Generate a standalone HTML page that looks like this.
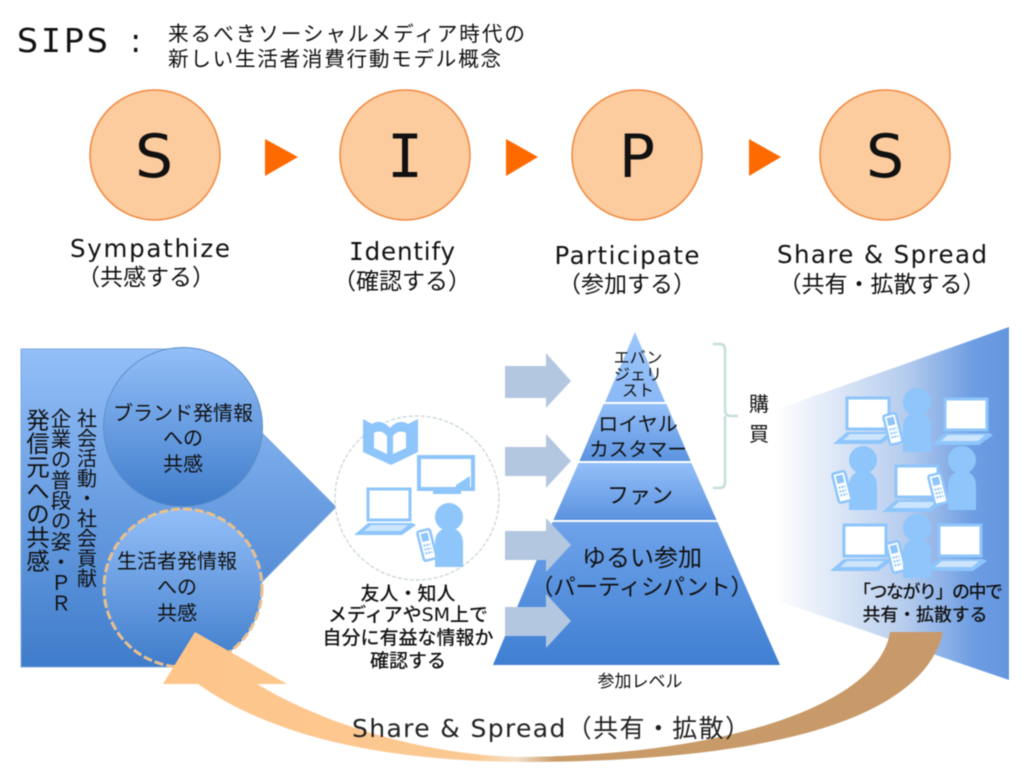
<!DOCTYPE html>
<html lang="ja"><head><meta charset="utf-8"><title>SIPS</title>
<style>
html,body{margin:0;padding:0;background:#fff;width:1028px;height:780px;overflow:hidden}
svg{display:block;filter:blur(.5px)}
text{font-family:"DejaVu Sans","Noto Sans CJK JP",sans-serif;fill:#111;text-anchor:middle}
.m{font-family:"DejaVu Sans Mono","Noto Sans CJK JP",monospace}
.v{writing-mode:vertical-rl;text-anchor:start;font-family:"Noto Sans CJK JP",sans-serif}
</style></head><body>
<svg width="1028" height="780" viewBox="0 0 1028 780" xmlns="http://www.w3.org/2000/svg">
<defs>
<linearGradient id="b" x1="0" y1="0" x2="0" y2="1"><stop offset="0" stop-color="#93bff8"/><stop offset="1" stop-color="#3f7ccb"/></linearGradient>
<linearGradient id="p1" gradientUnits="userSpaceOnUse" x1="0" y1="332" x2="0" y2="665"><stop offset="0" stop-color="#9cc6fb"/><stop offset=".6" stop-color="#6aa0ea"/><stop offset="1" stop-color="#3c7ccb"/></linearGradient>
<linearGradient id="p2" x1="0" y1="0" x2="0" y2="1"><stop offset="0" stop-color="#94c0f9"/><stop offset="1" stop-color="#5b92df"/></linearGradient>
<linearGradient id="p4" x1="0" y1="0" x2="0" y2="1"><stop offset="0" stop-color="#6fa3ea"/><stop offset="1" stop-color="#3f7fd2"/></linearGradient>
<linearGradient id="f" gradientUnits="userSpaceOnUse" x1="775" y1="0" x2="1009" y2="0"><stop offset="0" stop-color="#fff"/><stop offset=".55" stop-color="#b7cdee"/><stop offset=".85" stop-color="#6d9de2"/><stop offset="1" stop-color="#6496e0"/></linearGradient>
<linearGradient id="c" gradientUnits="userSpaceOnUse" x1="163" y1="0" x2="948" y2="0"><stop offset="0" stop-color="#fec58a"/><stop offset=".4" stop-color="#fcc993"/><stop offset=".45" stop-color="#f5dfc8"/><stop offset=".5" stop-color="#c99c68"/><stop offset="1" stop-color="#c8996a"/></linearGradient>
<g id="laptop"><rect x="2" y="2" width="42" height="31" fill="#fff" stroke="#8ec5fb" stroke-width="3"/><path d="M-12 48L2 36H46L50 38L36 48Z" fill="#8ec5fb"/><path d="M-2 44L5 38H42L35 44Z" fill="#fff" opacity=".55"/></g>
<g id="person"><circle cx="14" cy="14" r="14" fill="#8ec5fb"/><path d="M0 46V40C0 30 6 25 14 25S28 30 28 40V64H0Z" fill="#8ec5fb"/></g>
<g id="phone"><g transform="rotate(-14)"><rect width="13" height="30" rx="2" fill="#fff" stroke="#8ec5fb" stroke-width="2.5"/><rect x="3" y="3" width="7" height="8" fill="#8ec5fb"/><path d="M3 15h7M3 19h7M3 23h7" stroke="#8ec5fb" stroke-width="2" stroke-dasharray="2 1"/></g></g>
</defs>

<text x="17" y="52" style="text-anchor:start;font-size:33px;letter-spacing:3px">S<tspan class="m">I</tspan>PS<tspan dx="6"> :</tspan></text>
<text x="168" y="41" style="text-anchor:start;font-size:20.6px;font-family:'Noto Sans CJK JP',sans-serif" textLength="357">来るべきソーシャルメディア時代の</text>
<text x="168" y="66" style="text-anchor:start;font-size:20.6px;font-family:'Noto Sans CJK JP',sans-serif" textLength="333">新しい生活者消費行動モデル概念</text>

<g fill="#fccb9e" stroke="#f0893f" stroke-width="1.5"><circle cx="155" cy="155" r="65"/><circle cx="405" cy="155" r="65"/><circle cx="637" cy="155" r="65"/><circle cx="885" cy="155" r="65"/></g>
<g style="font-size:60px"><text x="154" y="177">S</text><text x="405" y="177" class="m">I</text><text x="637" y="177">P</text><text x="885" y="177">S</text></g>
<g fill="#ff6a00"><path d="M265 139L298 157L265 176Z"/><path d="M506 139L538 157L506 176Z"/><path d="M749 139L781 157L749 176Z"/></g>
<g style="font-size:24.5px;fill:#222">
<text x="150" y="257" textLength="160">Sympathize</text>
<text x="402" y="260" textLength="106"><tspan class="m">I</tspan>dentify</text>
<text x="627" y="264" textLength="145">Participate</text>
<text x="882" y="263" textLength="210">Share &amp; Spread</text>
</g>
<g style="font-size:23px;font-family:'Noto Sans CJK JP',sans-serif;fill:#333">
<text x="146" y="285">（共感する）</text>
<text x="402" y="289">（確認する）</text>
<text x="627" y="292">（参加する）</text>
<text x="882" y="292">（共有・拡散する）</text>
</g>

<path d="M21 349H178L336 507L178 667H21Z" fill="url(#b)" stroke="#7fa9dc"/>
<circle cx="183" cy="427" r="79.5" fill="url(#b)" stroke="#5f8fc8"/>
<circle cx="183" cy="588" r="79" fill="url(#b)" stroke="#e9c08f" stroke-width="3" stroke-dasharray="9 3"/>
<g style="font-size:21px;fill:#1a1a2a">
<text class="v" x="87" y="408" style="font-size:20px;letter-spacing:0">社会活動・社会貢献</text>
<text class="v" x="61" y="408" style="font-size:20.5px">企業の普段の姿・ＰＲ</text>
<text class="v" x="38" y="408" style="font-size:23.5px">発信元への共感</text>
</g>
<g style="font-size:20px;font-family:'Noto Sans CJK JP',sans-serif;fill:#1a1a2a">
<text x="183" y="420">ブランド発情報</text><text x="183" y="445">への</text><text x="183" y="471">共感</text>
<text x="177" y="568">生活者発情報</text><text x="177" y="594">への</text><text x="177" y="620">共感</text>
</g>

<circle cx="417" cy="498" r="82" fill="#fff" stroke="#c4d2d4" stroke-width="1.2" stroke-dasharray="4 2"/>
<path d="M363 419L372 424C378 420 385 422 390 428C395 422 402 420 408 424L418 419V452L391 465L363 452Z" fill="#8ec5fb"/>
<path d="M374 433C379 430 384 432 387 436V454L374 448ZM406 433C401 430 396 432 393 436V454L406 448Z" fill="#fff"/>
<rect x="419" y="457" width="54" height="32" fill="#fff" stroke="#8ec5fb" stroke-width="4"/><path d="M456 485L470 476V487H456Z" fill="#8ec5fb"/><rect x="433" y="491" width="28" height="3" fill="#8ec5fb"/>
<use href="#laptop" x="366" y="487" />
<use href="#person" x="435" y="503"/>
<use href="#phone" x="417" y="532"/>

<g style="font-size:19px;font-family:'Noto Sans CJK JP',sans-serif;font-weight:500;fill:#111">
<text x="408" y="600">友人・知人</text>
<text x="408" y="621">メディアやSM上で</text>
<text x="408" y="644">自分に有益な情報か</text>
<text x="408" y="667">確認する</text>
</g>

<path d="M635 332L778 665H493Z" fill="url(#p1)"/>
<path d="M604 403L666 403L691 462H579Z" fill="url(#p2)"/>
<path d="M579 462H691L717 521H553Z" fill="url(#p2)"/>
<path d="M553 521H717L780 665H493Z" fill="url(#p4)"/>
<g stroke="#fff" stroke-width="2"><path d="M600 403H672M575 462H696M550 521H722"/></g>

<g fill="#b4c7e0"><path d="M505 366H546V353L571 381L546 408V398H505Z"/><path d="M505 447H546V434L571 461L546 488V476H505Z"/><path d="M505 531H546V518L571 545L546 572V560H505Z"/><path d="M505 607H546V594L571 621L546 648V636H505Z"/></g>

<g style="font-family:'Noto Sans CJK JP',sans-serif;fill:#222">
<g style="font-size:16px"><text x="638" y="363">エバン</text><text x="638" y="380">ジェリ</text><text x="638" y="396">スト</text></g>
<text x="638" y="431" style="font-size:20px">ロイヤル</text><text x="638" y="456" style="font-size:19.5px">カスタマー</text>
<text x="640" y="503" style="font-size:22px">ファン</text>
<text x="642" y="566" style="font-size:24px">ゆるい参加</text>
<text x="642" y="595" style="font-size:22.5px" textLength="222">（パーティシパント）</text>
<text x="640" y="687" style="font-size:17px">参加レベル</text>
<text x="759" y="411" style="font-size:20px">購</text><text x="759" y="441" style="font-size:20px">買</text>
</g>
<path d="M713 344H720Q725 344 725 350V410Q725 416 731 416H738M725 416V482Q725 488 720 488H713" fill="none" stroke="#c6dedb" stroke-width="2.5"/>

<path d="M775 410L1009 327V680L775 600Z" fill="url(#f)"/>
<use href="#laptop" x="845" y="396"/><use href="#person" x="903" y="388"/><use href="#phone" x="883" y="416"/><use href="#laptop" x="943" y="397"/>
<use href="#person" x="849" y="446"/><use href="#phone" x="832" y="474"/><use href="#laptop" x="894" y="464"/><use href="#phone" x="928" y="476"/><use href="#person" x="948" y="446"/>
<use href="#laptop" x="842" y="523"/><use href="#phone" x="886" y="544"/><use href="#person" x="903" y="514"/><use href="#laptop" x="937" y="523"/>
<g style="font-size:18px;font-family:'Noto Sans CJK JP',sans-serif;font-weight:500;fill:#111">
<text x="928" y="598" textLength="150">「つながり」の中で</text><text x="925" y="621" textLength="125">共有・拡散する</text>
</g>

<path d="M890 632H943C930 690 850 760 530 762C380 762 270 735 198 684H163L195 632L287 684H257C320 722 420 755 520 757C740 755 880 700 890 632Z" fill="url(#c)"/>
<text x="352" y="737" style="text-anchor:start;font-size:25px;fill:#222;font-family:'DejaVu Sans','Noto Sans CJK JP',sans-serif" textLength="398">Share &amp; Spread（共有・拡散）</text>
</svg>
</body></html>
